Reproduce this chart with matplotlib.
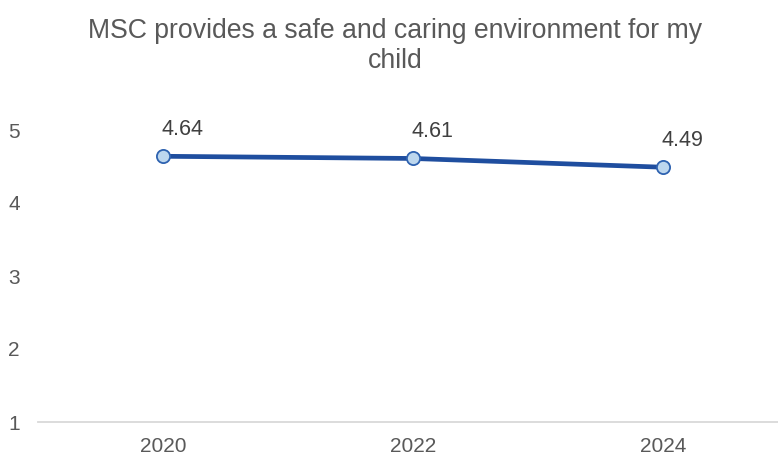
import matplotlib
matplotlib.use("Agg")
import matplotlib.pyplot as plt

# Survey result over time
years = ["2020", "2022", "2024"]
scores = [4.64, 4.61, 4.49]
score_labels = ["4.64", "4.61", "4.49"]
y_ticks = [1, 2, 3, 4, 5]

plt.rcParams["font.family"] = ["Liberation Sans", "DejaVu Sans"]

W, H = 778, 459
fig = plt.figure(figsize=(W / 100, H / 100), dpi=100)

# axes box in pixel terms: x from 38 to 788, y from 110 to 422
left, right, top, bottom = 38, 788, 110, 422
ax = fig.add_axes([left / W, 1 - bottom / H, (right - left) / W, (bottom - top) / H])

x = list(range(len(years)))
ax.plot(x, scores, color="#1F4E9F", linewidth=3.4, solid_capstyle="round",
        marker="o", markersize=9.5, markerfacecolor="#BDD7EE",
        markeredgecolor="#2E62B0", markeredgewidth=1.3, zorder=3)

for xi, yi, lab in zip(x, scores, score_labels):
    ax.annotate(lab, (xi, yi), xytext=(19, 27), textcoords="offset pixels",
                ha="center", va="center", fontsize=15.5, color="#404040")

ax.set_xlim(-0.5, len(years) - 0.5)
ax.set_ylim(1, 5 + 20 / 73)
ax.set_xticks(x)
ax.set_xticklabels(years)
ax.set_yticks(y_ticks)
ax.tick_params(axis="both", length=0, labelsize=15, colors="#595959")
ax.tick_params(axis="x", pad=11)
ax.tick_params(axis="y", pad=13)

for side in ["top", "right", "left"]:
    ax.spines[side].set_visible(False)
ax.spines["bottom"].set_color("#D9D9D9")
ax.spines["bottom"].set_linewidth(1.3)

fig.text(395 / W, 1 - 46 / H, "MSC provides a safe and caring environment for my\nchild",
         ha="center", va="center", fontsize=19.2, color="#595959", linespacing=1.2)

fig.savefig("out.png", dpi=100)
